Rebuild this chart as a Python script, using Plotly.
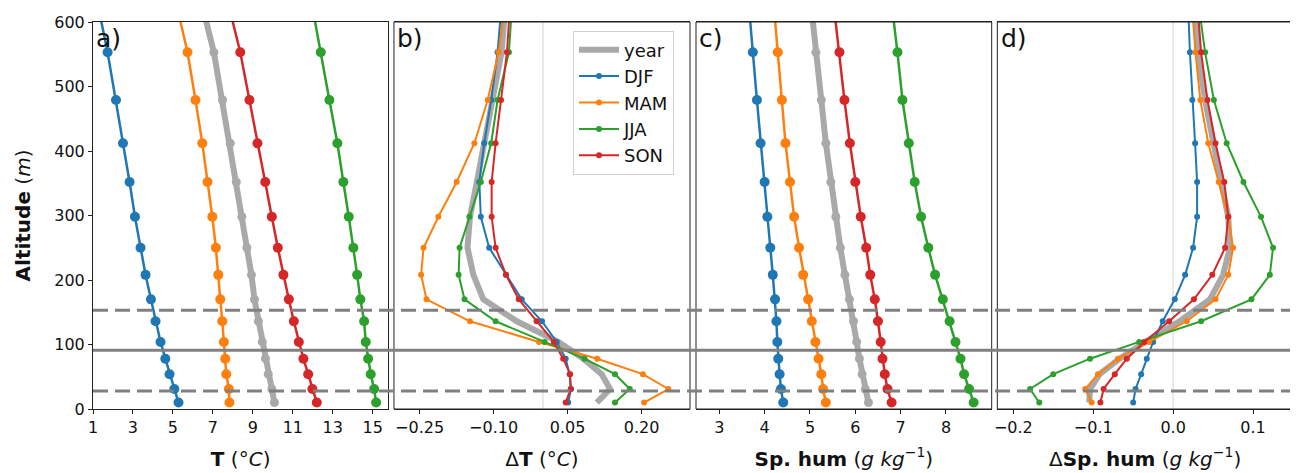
import plotly.graph_objects as go

# ---------------- data ----------------
alt = [10, 31, 54, 78, 104, 136, 170, 208, 250, 298, 352, 412, 479, 553, 635]
seasons = ["DJF", "MAM", "JJA", "SON"]
colors = {"year": "#a9a9a9", "DJF": "#1f77b4", "MAM": "#ff7f0e", "JJA": "#2ca02c", "SON": "#d62728"}

T_year = [10.08, 9.95, 9.77, 9.63, 9.47, 9.28, 9.08, 8.93, 8.70, 8.45, 8.17, 7.87, 7.48, 7.05, 6.39]
T_djf = [5.28, 5.07, 4.83, 4.62, 4.38, 4.13, 3.90, 3.63, 3.38, 3.10, 2.83, 2.50, 2.15, 1.73, 1.19]
T_mam = [7.83, 7.80, 7.67, 7.62, 7.55, 7.47, 7.37, 7.27, 7.15, 6.97, 6.73, 6.47, 6.13, 5.73, 5.12]
T_jja = [15.17, 15.07, 14.90, 14.77, 14.65, 14.57, 14.38, 14.22, 14.03, 13.80, 13.53, 13.23, 12.83, 12.40, 11.91]
T_son = [12.20, 11.98, 11.77, 11.53, 11.30, 11.05, 10.80, 10.53, 10.25, 9.95, 9.62, 9.23, 8.83, 8.37, 7.72]

dT_year = [0.109, 0.136, 0.119, 0.082, 0.031, -0.053, -0.121, -0.141, -0.153, -0.148, -0.134, -0.119, -0.100, -0.084, -0.075]
dT_djf = [0.051, 0.057, 0.054, 0.046, 0.028, -0.002, -0.043, -0.075, -0.109, -0.126, -0.129, -0.119, -0.105, -0.092, -0.083]
dT_mam = [0.205, 0.254, 0.2025, 0.110, -0.008, -0.148, -0.236, -0.247, -0.242, -0.212, -0.175, -0.139, -0.112, -0.090, -0.076]
dT_jja = [0.146, 0.176, 0.146, 0.084, 0.0035, -0.096, -0.159, -0.171, -0.169, -0.149, -0.126, -0.105, -0.092, -0.069, -0.062]
dT_son = [0.046, 0.056, 0.055, 0.041, 0.022, -0.013, -0.049, -0.075, -0.096, -0.104, -0.104, -0.096, -0.085, -0.073, -0.066]

q_year = [6.29, 6.22, 6.15, 6.09, 6.03, 5.96, 5.87, 5.77, 5.67, 5.57, 5.46, 5.35, 5.25, 5.13, 5.01]
q_djf = [4.41, 4.36, 4.33, 4.30, 4.28, 4.26, 4.23, 4.18, 4.125, 4.06, 4.00, 3.91, 3.83, 3.74, 3.64]
q_mam = [5.35, 5.29, 5.25, 5.19, 5.12, 5.04, 4.96, 4.85, 4.76, 4.65, 4.56, 4.46, 4.38, 4.29, 4.19]
q_jja = [8.61, 8.51, 8.40, 8.32, 8.21, 8.08, 7.93, 7.76, 7.61, 7.45, 7.31, 7.18, 7.04, 6.93, 6.79]
q_son = [6.80, 6.71, 6.65, 6.60, 6.56, 6.50, 6.43, 6.33, 6.24, 6.12, 6.00, 5.88, 5.76, 5.65, 5.51]

dq_year = [-0.105, -0.104, -0.092, -0.067, -0.035, 0.008, 0.046, 0.0625, 0.071, 0.069, 0.060, 0.050, 0.040, 0.031, 0.026]
dq_djf = [-0.050, -0.047, -0.040, -0.033, -0.025, -0.013, 0.002, 0.015, 0.025, 0.030, 0.030, 0.0275, 0.024, 0.021, 0.0185]
dq_mam = [-0.102, -0.110, -0.094, -0.069, -0.030, 0.017, 0.053, 0.069, 0.075, 0.069, 0.057, 0.044, 0.034, 0.028, 0.023]
dq_jja = [-0.1675, -0.179, -0.150, -0.104, -0.0425, 0.035, 0.098, 0.121, 0.125, 0.110, 0.088, 0.067, 0.051, 0.040, 0.031]
dq_son = [-0.091, -0.087, -0.073, -0.058, -0.036, -0.005, 0.026, 0.049, 0.065, 0.069, 0.064, 0.053, 0.043, 0.035, 0.030]

dashed_levels = [28, 153]
solid_levels = [91]

panels = [
    {"year": T_year, "DJF": T_djf, "MAM": T_mam, "JJA": T_jja, "SON": T_son},
    {"year": dT_year, "DJF": dT_djf, "MAM": dT_mam, "JJA": dT_jja, "SON": dT_son},
    {"year": q_year, "DJF": q_djf, "MAM": q_mam, "JJA": q_jja, "SON": q_son},
    {"year": dq_year, "DJF": dq_djf, "MAM": dq_mam, "JJA": dq_jja, "SON": dq_son},
]
panel_letters = ["a)", "b)", "c)", "d)"]
x_titles = [
    "<b>T</b> (°<i>C</i>)",
    "Δ<b>T</b> (°<i>C</i>)",
    "<b>Sp. hum</b> (<i>g kg</i><sup>−1</sup>)",
    "Δ<b>Sp. hum</b> (<i>g kg</i><sup>−1</sup>)",
]
x_ranges = [[1.0, 15.78], [-0.302, 0.298], [2.486, 9.008], [-0.22, 0.15]]
x_ticks = [
    [1, 3, 5, 7, 9, 11, 13, 15],
    [-0.25, -0.10, 0.05, 0.20],
    [3, 4, 5, 6, 7, 8],
    [-0.2, -0.1, 0.0, 0.1],
]
x_formats = ["d", ".2f", "d", ".1f"]
domains = [[0.0, 0.2461], [0.2508, 0.4975], [0.5025, 0.7489], [0.7536, 1.0]]

FONT = "DejaVu Sans"
fig = go.Figure()

for i, data in enumerate(panels):
    xa = "x" if i == 0 else f"x{i+1}"
    big = i in (0, 2)
    msize = 10 if big else 6
    lw = 2.5 if big else 2
    # year
    fig.add_trace(go.Scatter(
        x=data["year"], y=alt, xaxis=xa, yaxis="y",
        mode="lines+markers" if big else "lines",
        line=dict(color=colors["year"], width=6),
        marker=dict(color=colors["year"], size=9),
        name="year", legendgroup="year", showlegend=(i == 1),
    ))
    for s in seasons:
        fig.add_trace(go.Scatter(
            x=data[s], y=alt, xaxis=xa, yaxis="y",
            mode="lines+markers",
            line=dict(color=colors[s], width=lw),
            marker=dict(color=colors[s], size=msize),
            name=s, legendgroup=s, showlegend=(i == 1),
        ))

# page body has an 8px margin, so the figure is sized to fit the window
layout = dict(
    width=1290, height=465,
    margin=dict(l=85, r=5, t=11, b=64),
    paper_bgcolor="white", plot_bgcolor="white",
    font=dict(family=FONT, size=16, color="#111"),
    showlegend=True,
    legend=dict(
        x=0.4, y=0.978, xanchor="left", yanchor="top",
        bgcolor="rgba(255,255,255,0.85)", bordercolor="#d0d0d0", borderwidth=1,
        font=dict(family=FONT, size=18), itemwidth=40, tracegroupgap=0,
    ),
    yaxis=dict(
        range=[0, 600], tickvals=[0, 100, 200, 300, 400, 500, 600],
        showgrid=False, zeroline=False, ticks="outside", ticklen=4, tickwidth=1,
        tickcolor="#222", showline=True, linecolor="#222", linewidth=1, mirror=True,
        anchor="x",
        title=dict(text="<b>Altitude</b> (<i>m</i>)", font=dict(size=20), standoff=18),
        tickfont=dict(size=16),
    ),
)
for i in range(4):
    key = "xaxis" if i == 0 else f"xaxis{i+1}"
    layout[key] = dict(
        domain=domains[i], anchor="y", range=x_ranges[i], tickvals=x_ticks[i],
        tickformat=x_formats[i], showgrid=False, zeroline=False,
        ticks="outside", ticklen=4, tickwidth=1, tickcolor="#222",
        showline=True, linecolor="#222", linewidth=1, mirror=True,
        title=dict(text=x_titles[i], font=dict(size=20), standoff=15),
        tickfont=dict(size=16),
    )
fig.update_layout(**layout)

shapes = []
for i in range(1, 4):
    xr = f"x{i+1}"
    shapes.append(dict(type="rect", xref=f"{xr} domain", yref="y domain", x0=0, x1=1, y0=0, y1=1,
                       line=dict(color="#222", width=1), layer="above"))
for i in (1, 3):
    xr = f"x{i+1}"
    shapes.append(dict(type="line", xref=xr, yref="y domain", x0=0, x1=0, y0=0, y1=1,
                       line=dict(color="#e3e3e3", width=1.5), layer="below"))
for lev in dashed_levels:
    shapes.append(dict(type="line", xref="paper", yref="y", x0=0, x1=1, y0=lev, y1=lev,
                       line=dict(color="#808080", width=3, dash="15px,7px"), layer="above"))
for lev in solid_levels:
    shapes.append(dict(type="line", xref="paper", yref="y", x0=0, x1=1, y0=lev, y1=lev,
                       line=dict(color="#808080", width=3), layer="above"))
fig.update_layout(shapes=shapes)

annotations = []
for i, lab in enumerate(panel_letters):
    xr = "x" if i == 0 else f"x{i+1}"
    annotations.append(dict(text=lab, xref=f"{xr} domain", yref="y domain", x=0.005, y=1.0,
                            xanchor="left", yanchor="top", showarrow=False,
                            font=dict(family=FONT, size=25, color="#111")))
fig.update_layout(annotations=annotations)

fig.write_html("out.html")
